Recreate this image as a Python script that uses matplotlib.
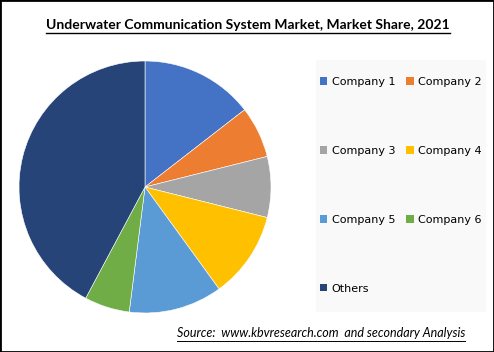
#! /usr/bin/env python3
# coding: utf-8

import matplotlib

matplotlib.use("Agg")
import matplotlib.pyplot as plt
from matplotlib.lines import Line2D
from matplotlib.patches import Patch, Rectangle

TITLE = "Underwater Communication System Market, Market Share, 2021"
SOURCE = "Source:  www.kbvresearch.com  and secondary Analysis"

companies = ["Company 1", "Company 2", "Company 3", "Company 4",
             "Company 5", "Company 6", "Others"]
shares = [14.5, 6.6, 7.8, 11.1, 12.0, 5.8, 42.2]
colors = ["#4472C4", "#ED7D31", "#A5A5A5", "#FFC000",
          "#5B9BD5", "#70AD47", "#264478"]

W, H = 494, 352


def underline(fig, text, color="black", lw=0.9, gap=2):
    renderer = fig.canvas.get_renderer()
    bb = text.get_window_extent(renderer)
    y = (bb.y0 - gap) / H
    fig.add_artist(Line2D([bb.x0 / W, bb.x1 / W], [y, y],
                          color=color, lw=lw, transform=fig.transFigure))


def main():
    fig = plt.figure(figsize=(W / 100, H / 100), dpi=100)

    # pie centred near (145, 187) px with radius ~126 px
    cx, cy, r = 145, 187, 126
    ax = fig.add_axes([(cx - r) / W, (H - cy - r) / H, 2 * r / W, 2 * r / H])
    ax.pie(shares, colors=colors, startangle=90, counterclock=False,
           wedgeprops=dict(linewidth=0.4, edgecolor="white"))
    ax.set_xlim(-1, 1)
    ax.set_ylim(-1, 1)
    ax.set_aspect("equal")

    # legend background panel
    fig.add_artist(Rectangle((316 / W, (H - 312) / H), 170 / W, 252 / H,
                             transform=fig.transFigure, facecolor="#f9f9f9",
                             edgecolor="none", zorder=0))

    handles = [Patch(facecolor=c, edgecolor="none") for c in colors]
    order = [0, 2, 4, 6, 1, 3, 5]
    fig.legend([handles[i] for i in order], [companies[i] for i in order],
               ncol=2, loc="upper left", bbox_to_anchor=(320 / W, (H - 77) / H),
               frameon=False, fontsize=8, handlelength=0.65, handleheight=0.65,
               handletextpad=0.4, columnspacing=1.0, labelspacing=5.3,
               borderaxespad=0, borderpad=0)

    title = fig.text(248 / W, 1 - 25 / H, TITLE, ha="center", va="center",
                     family="Lato", weight="bold", fontsize=10)
    source = fig.text(321 / W, 1 - 333 / H, SOURCE, ha="center", va="center",
                      family="Lato", style="italic", fontsize=9)
    fig.canvas.draw()
    underline(fig, title, lw=1.0)
    underline(fig, source, lw=0.7)

    fig.add_artist(Rectangle((0, 0), 1, 1, transform=fig.transFigure,
                             fill=False, edgecolor="black", lw=2))

    fig.savefig("out.png", dpi=100)


if __name__ == "__main__":
    main()
